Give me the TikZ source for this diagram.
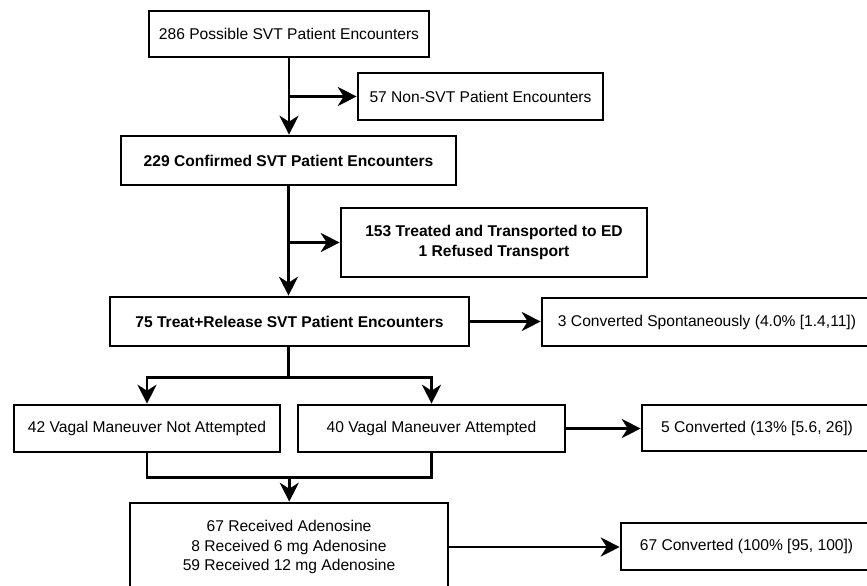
\documentclass[tikz,border=0pt]{standalone}
\usepackage{fontspec}
\setmainfont{Liberation Sans}
\usetikzlibrary{arrows.meta,calc}

\begin{document}
\begin{tikzpicture}[x=1pt,y=-1pt,
  box/.style={draw,line width=2.6pt,align=center,inner sep=0pt,font=\fontsize{15.6}{19.5}\selectfont},
  boldbox/.style={box,font=\fontsize{15.6}{19.5}\selectfont\bfseries},
  line/.style={line width=2.6pt},
  arr/.style={line width=2.6pt,-{Stealth[length=19pt,width=19pt,inset=6pt]}}]
\useasboundingbox (0,0) rectangle (867,586);
\clip (0,0) rectangle (867,586);
\node[box,minimum width=280pt,minimum height=46pt] (possible) at (289,34) {286 Possible SVT Patient Encounters};
\node[box,minimum width=245pt,minimum height=47pt] (nonsvt) at (480.5,96.5) {57 Non-SVT Patient Encounters};
\node[boldbox,minimum width=335pt,minimum height=49pt] (confirmed) at (288.5,160.5) {229 Confirmed SVT Patient Encounters};
\node[boldbox,minimum width=306pt,minimum height=69pt] (treated) at (494,242.5) {153 Treated and Transported to ED\\1 Refused Transport};
\node[boldbox,minimum width=359pt,minimum height=49pt] (release) at (289.5,321.5) {75 Treat+Release SVT Patient Encounters};
\node[box,minimum width=330pt,minimum height=48pt] (spont) at (707,322) {3 Converted Spontaneously (4.0\% [1.4,11])};
\node[box,minimum width=266pt,minimum height=47pt] (notatt) at (147,428.5) {42 Vagal Maneuver Not Attempted};
\node[box,minimum width=267pt,minimum height=47pt] (att) at (431.5,428.5) {40 Vagal Maneuver Attempted};
\node[box,minimum width=230pt,minimum height=46pt] (vagconv) at (757,428) {5 Converted (13\% [5.6, 26])};
\node[box,minimum width=318pt,minimum height=88pt] (adeno) at (289,547) {67 Received Adenosine\\8 Received 6 mg Adenosine\\59 Received 12 mg Adenosine};
\node[box,minimum width=251pt,minimum height=47pt] (adenoconv) at (746.5,546.5) {67 Converted (100\% [95, 100])};

\coordinate (split) at ($(confirmed.south |- release.south)+(0,30)$);
\coordinate (merge) at ($(notatt.south)!0.5!(att.south)+(0,24)$);

\draw[arr] (possible.south) -- (possible.south |- confirmed.north);
\draw[arr] (possible.south |- nonsvt.west) -- (nonsvt.west);
\draw[arr] (confirmed.south) -- (confirmed.south |- release.north);
\draw[arr] (confirmed.south |- treated.west) -- (treated.west);
\draw[arr] (release.east) -- (release.east -| spont.west);
\draw[line] (confirmed.south |- release.south) -- (split);
\draw[arr] (split) -| (notatt.north);
\draw[arr] (split) -| (att.north);
\draw[arr] (att.east) -- (att.east -| vagconv.west);
\draw[line] (notatt.south) |- (att.south |- merge) -- (att.south);
\draw[arr] (merge) -- (merge |- adeno.north);
\draw[arr] (adeno.east) -- (adeno.east -| adenoconv.west);
\end{tikzpicture}
\end{document}
